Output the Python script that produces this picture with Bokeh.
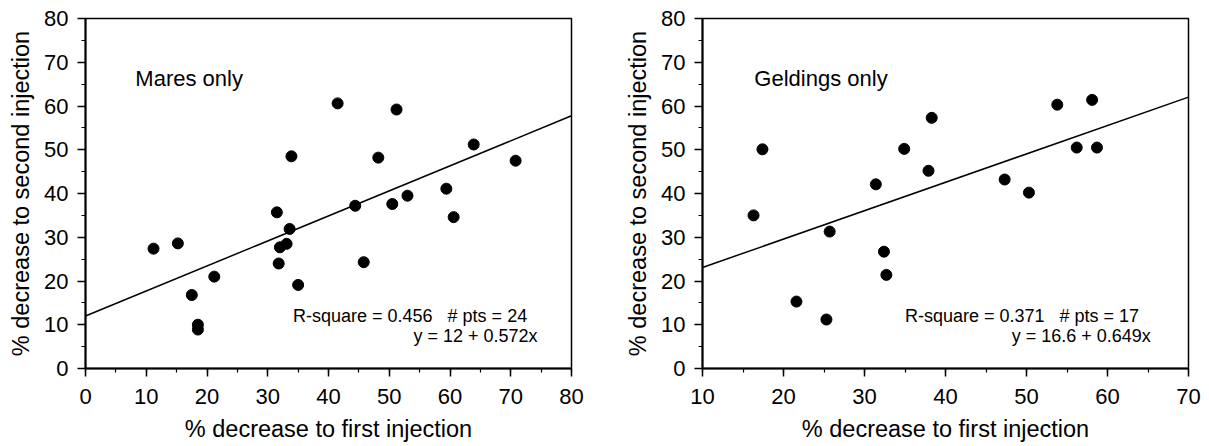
from bokeh.plotting import figure
from bokeh.layouts import row
from bokeh.models import Range1d, SingleIntervalTicker, Label
from bokeh.embed import file_html
from bokeh.resources import INLINE

# ---------------- data ----------------
mares_x = [11.2, 15.2, 17.5, 18.5, 18.5, 21.2, 31.5, 31.8, 32.0, 33.1, 33.6, 33.9,
           35.0, 41.5, 44.4, 45.8, 48.2, 50.5, 51.2, 53.0, 59.4, 60.6, 63.9, 70.8]
mares_y = [27.4, 28.6, 16.8, 10.0, 8.9, 21.0, 35.7, 24.0, 27.7, 28.5, 31.9, 48.5,
           19.1, 60.6, 37.2, 24.3, 48.2, 37.6, 59.2, 39.5, 41.1, 34.6, 51.2, 47.5]

geld_x = [16.3, 17.4, 21.6, 25.3, 25.7, 31.4, 32.4, 32.7, 34.9, 37.9, 38.3,
          47.3, 50.3, 53.8, 56.2, 58.1, 58.7]
geld_y = [35.0, 50.1, 15.3, 11.2, 31.3, 42.1, 26.7, 21.4, 50.2, 45.2, 57.3,
          43.2, 40.2, 60.3, 50.5, 61.4, 50.5]

mares_fit = (12.0, 0.572)   # intercept, slope
geld_fit = (16.6, 0.649)

mares_xrange = (0, 80)
geld_xrange = (10, 70)
y_range = (0, 80)

x_label = "% decrease to first injection"
y_label = "% decrease to second injection"
mares_title = "Mares only"
geld_title = "Geldings only"
NB = "\u00a0"
mares_stats = ["R-square = 0.456" + NB * 3 + "# pts = 24", "y = 12 + 0.572x"]
geld_stats = ["R-square = 0.371" + NB * 3 + "# pts = 17", "y = 16.6 + 0.649x"]

FONT = "Liberation Sans"


def make_panel(xs, ys, fit, xr, title, stats, width, border_left, border_right,
               title_pos, stats1_pos, stats2_pos):
    p = figure(width=width, height=444, output_backend="svg", toolbar_location=None,
               x_range=Range1d(*xr), y_range=Range1d(*y_range),
               min_border_left=border_left, min_border_right=border_right,
               min_border_top=18, min_border_bottom=76)
    p.background_fill_color = "white"
    p.border_fill_color = "white"
    p.outline_line_color = "black"
    p.outline_line_width = 1.5
    p.xgrid.visible = False
    p.ygrid.visible = False

    p.xaxis.ticker = SingleIntervalTicker(interval=10, num_minor_ticks=2)
    p.yaxis.ticker = SingleIntervalTicker(interval=10, num_minor_ticks=2)
    for ax in (p.xaxis[0], p.yaxis[0]):
        ax.axis_line_color = "black"
        ax.axis_line_width = 2
        ax.major_tick_line_color = "black"
        ax.minor_tick_line_color = "black"
        ax.major_tick_line_width = 1.5
        ax.minor_tick_line_width = 1.2
        ax.major_tick_out = 8
        ax.major_tick_in = 0
        ax.minor_tick_out = 4
        ax.minor_tick_in = 0
        ax.major_label_text_font = FONT
        ax.major_label_text_font_size = "22px"
        ax.major_label_text_color = "black"
        ax.axis_label_text_font = FONT
        ax.axis_label_text_font_size = "23.5px"
        ax.axis_label_text_font_style = "normal"
        ax.axis_label_text_color = "black"
    p.xaxis.axis_label = x_label
    p.yaxis.axis_label = y_label
    p.xaxis.major_label_standoff = 12
    p.xaxis.axis_label_standoff = 9
    p.yaxis.major_label_standoff = 9
    p.yaxis.axis_label_standoff = 7

    lx = [xr[0], xr[1]]
    ly = [fit[0] + fit[1] * v for v in lx]
    p.line(lx, ly, line_color="black", line_width=1.5)
    p.scatter(xs, ys, size=11, fill_color="black", line_color="black")

    p.add_layout(Label(x=title_pos[0], y=title_pos[1], text=title,
                       text_font=FONT, text_font_size="22px", text_color="black",
                       text_align="left", text_baseline="alphabetic"))
    p.add_layout(Label(x=stats1_pos[0], y=stats1_pos[1], text=stats[0],
                       text_font=FONT, text_font_size="18px", text_color="black",
                       text_align="right", text_baseline="alphabetic"))
    p.add_layout(Label(x=stats2_pos[0], y=stats2_pos[1], text=stats[1],
                       text_font=FONT, text_font_size="18px", text_color="black",
                       text_align="right", text_baseline="alphabetic"))
    return p


p1 = make_panel(mares_x, mares_y, mares_fit, mares_xrange, mares_title, mares_stats,
                width=608, border_left=85, border_right=37,
                title_pos=(8.2, 66.3), stats1_pos=(72.7, 11.9), stats2_pos=(74.4, 7.5))
p2 = make_panel(geld_x, geld_y, geld_fit, geld_xrange, geld_title, geld_stats,
                width=593, border_left=94, border_right=13,
                title_pos=(16.4, 66.3), stats1_pos=(63.9, 11.9), stats2_pos=(65.35, 7.5))

layout = row(p1, p2)
open("out.html", "w").write(file_html(layout, INLINE))
